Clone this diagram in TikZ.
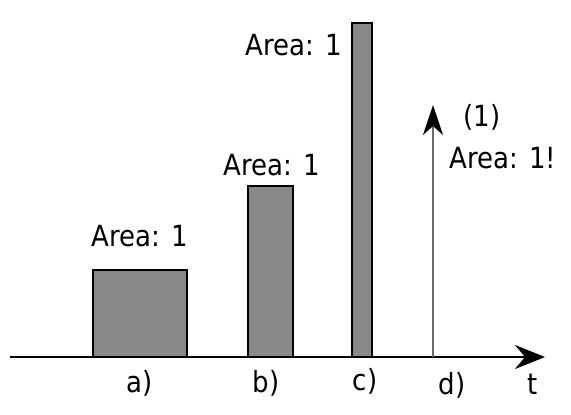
\documentclass[tikz,border=0pt]{standalone}
\usepackage{fontspec}
\setmainfont{DejaVu Sans}
\usetikzlibrary{arrows.meta}
\definecolor{barfill}{HTML}{888888}
\definecolor{stemgray}{HTML}{6A6A6A}
\tikzset{
  bar/.style={draw=black, fill=barfill, line width=2.6pt},
  lbl/.style={inner sep=0pt, yscale=1.12, font=\fontsize{26}{30}\selectfont},
  bigtip/.style={-{Stealth[length=30pt, width=24pt, inset=10pt]}}
}
\begin{document}
\begin{tikzpicture}[x=1pt, y=-1pt]
            \useasboundingbox (0,0) rectangle (571,415);

            % pulses of equal area
            \filldraw[bar] (93,357) rectangle (187,270);
            \filldraw[bar] (248,357) rectangle (293,186);
            \filldraw[bar] (352,357) rectangle (372,23);

            % axis
            \coordinate (tstart) at (10,357);
            \coordinate (tend) at (545,357);
            \draw[line width=2.4pt, bigtip] (tstart) -- (tend);

            % dirac impulse
            \coordinate (dbase) at (433,357);
            \coordinate (dtop) at (433,105);
            \draw[stemgray, line width=2.6pt, -{Stealth[length=30pt, width=20pt, inset=9pt, black]}] (dbase) -- (dtop);

            \node[lbl] (areaa) at (140,236) {Area: 1};
            \node[lbl] (areab) at (272,165) {Area: 1};
            \node[lbl] (areac) at (294,45) {Area: 1};
            \node[lbl] (weight) at (482,117) {(1)};
            \node[lbl] (aread) at (503,158) {Area: 1!};

            \node[lbl] (la) at (140,383) {a)};
            \node[lbl] (lb) at (266,383) {b)};
            \node[lbl] (lc) at (365,381) {c)};
            \node[lbl] (ld) at (452,385) {d)};
            \node[lbl] (lt) at (533,384) {t};
        \end{tikzpicture}
\end{document}
